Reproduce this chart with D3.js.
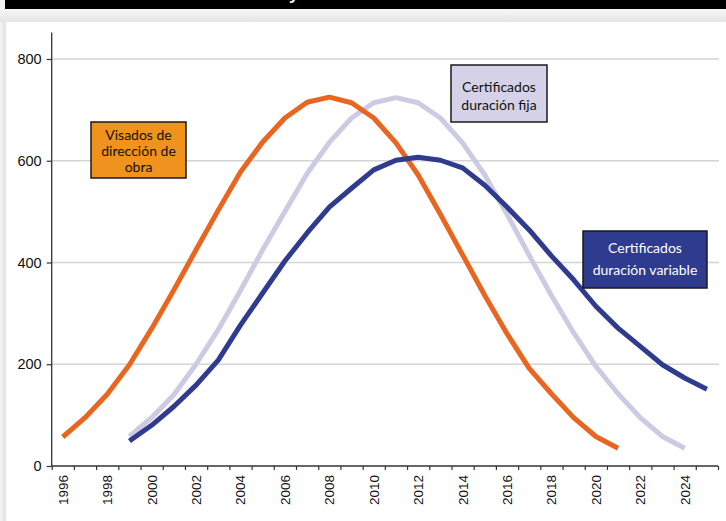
<!DOCTYPE html>
<html>
<head>
<meta charset="utf-8">
<script src="https://cdn.jsdelivr.net/npm/d3@7"></script>
<style>
  html, body { margin: 0; padding: 0; background: #fff; }
  svg { display: block; }
</style>
</head>
<body>
<svg id="chart" width="726" height="521"></svg>
<script>
// Years on the horizontal axis
const years = d3.range(1996, 2026);
const yTicks = [0, 200, 400, 600, 800];

// Visados de dirección de obra, 1996–2021
const visadosYears = d3.range(1996, 2022);
const visados = [57, 95, 141, 199, 270, 346, 425, 503, 578, 637, 684, 715, 725,
                 714, 684, 635, 572, 495, 415, 335, 260, 192, 142, 95, 58, 35];

// Certificados duración fija, 1999–2024
const fijaYears = d3.range(1999, 2025);
const fija = [58, 95, 140, 200, 268, 345, 425, 500, 575, 636, 684, 714, 724,
              714, 684, 635, 572, 495, 414, 335, 262, 196, 142, 95, 58, 35];

// Certificados duración variable, 1999–2025
const variableYears = d3.range(1999, 2026);
const variable = [49, 80, 117, 159, 208, 277, 340, 403, 458, 509, 546, 582, 601,
                  607, 601, 586, 552, 509, 464, 413, 366, 314, 271, 235, 199, 173, 151];

const series = [
  { name: "Visados de dirección de obra", years: visadosYears, values: visados, color: "#e8661f" },
  { name: "Certificados duración fija", years: fijaYears, values: fija, color: "#cdcbe3" },
  { name: "Certificados duración variable", years: variableYears, values: variable, color: "#2f3b8f" }
];

const svg = d3.select("#chart");
const W = 726, H = 521;

// Page frame: grey surround, shaded strip and white panel
const defs = svg.append("defs");
const g1 = defs.append("linearGradient").attr("id", "topShade").attr("x1", 0).attr("y1", 0).attr("x2", 0).attr("y2", 1);
g1.append("stop").attr("offset", "0%").attr("stop-color", "#f7f7f7");
g1.append("stop").attr("offset", "100%").attr("stop-color", "#e4e4e4");
const g2 = defs.append("linearGradient").attr("id", "leftShade").attr("x1", 0).attr("y1", 0).attr("x2", 1).attr("y2", 0);
g2.append("stop").attr("offset", "0%").attr("stop-color", "#f4f4f4");
g2.append("stop").attr("offset", "100%").attr("stop-color", "#e2e2e2");

svg.append("rect").attr("x", 0).attr("y", 0).attr("width", W).attr("height", H).attr("fill", "#f2f2f2");
svg.append("rect").attr("x", 0).attr("y", 9).attr("width", W).attr("height", 13).attr("fill", "url(#topShade)");
svg.append("rect").attr("x", 0).attr("y", 22).attr("width", 6).attr("height", H - 22).attr("fill", "url(#leftShade)");
svg.append("rect").attr("x", 6).attr("y", 22).attr("width", W - 6).attr("height", H - 22).attr("fill", "#ffffff");

// Black title bar (title sits mostly above the visible area)
svg.append("rect").attr("x", 5).attr("y", 0).attr("width", W - 5).attr("height", 9).attr("fill", "#000");
const title = svg.append("g")
  .attr("font-family", "Liberation Sans, Arial, sans-serif")
  .attr("font-weight", "bold").attr("font-size", 17).attr("fill", "#fff");
title.append("text").attr("x", 290).attr("y", 0).attr("text-anchor", "end").text("Visados");
title.append("text").attr("x", 289).attr("y", 0).attr("text-anchor", "start").text("y certificados");

// Scales
const x = d3.scaleLinear().domain([1996, 2025]).range([62.8, 706.9]);
const y = d3.scaleLinear().domain([0, 800]).range([466, 59]);
const x0 = x(1995.5), x1 = x(2025.5);

// Horizontal gridlines
svg.append("g").selectAll("line").data(yTicks.filter(d => d > 0)).join("line")
  .attr("x1", x0).attr("x2", 719)
  .attr("y1", d => y(d)).attr("y2", d => y(d))
  .attr("stroke", "#d4d4d4").attr("stroke-width", 1.4);

// Y axis
const yAxis = svg.append("g").attr("transform", `translate(${x0},0)`)
  .call(d3.axisLeft(y).tickValues(yTicks).tickSize(5).tickSizeOuter(0).tickPadding(5));
yAxis.select(".domain").remove();
yAxis.selectAll(".tick line").attr("stroke", "#333").attr("stroke-width", 1.2);
yAxis.selectAll(".tick text")
  .attr("font-family", "Liberation Sans, Arial, sans-serif")
  .attr("font-size", 14.5).attr("fill", "#111");
svg.append("line").attr("x1", x0).attr("x2", x0).attr("y1", y(852)).attr("y2", y(0))
  .attr("stroke", "#333").attr("stroke-width", 1.3);

// X axis: ticks on year boundaries, labels on every other year
const bounds = d3.range(1995.5, 2026, 1);
const xAxis = svg.append("g").attr("transform", `translate(0,${y(0)})`)
  .call(d3.axisBottom(x).tickValues(bounds).tickFormat("").tickSize(4).tickSizeOuter(0));
xAxis.select(".domain").attr("stroke", "#333").attr("stroke-width", 1.3)
  .attr("d", `M${x0},0H${x1}`);
xAxis.selectAll(".tick line").attr("stroke", "#333").attr("stroke-width", 1.2);

svg.append("g").selectAll("text").data(years.filter(d => d % 2 === 0)).join("text")
  .attr("transform", d => `translate(${x(d) + 5},${y(0) + 9}) rotate(-90)`)
  .attr("text-anchor", "end")
  .attr("font-family", "Liberation Sans, Arial, sans-serif")
  .attr("font-size", 13.5).attr("fill", "#111")
  .text(d => d);

// Lines
const line = d3.line().x(d => x(d[0])).y(d => y(d[1]));
const order = [1, 0, 2];
svg.append("g").selectAll("path").data(order.map(i => series[i])).join("path")
  .attr("d", s => line(s.years.map((yr, i) => [yr, s.values[i]])))
  .attr("fill", "none")
  .attr("stroke", s => s.color)
  .attr("stroke-width", 5)
  .attr("stroke-linejoin", "round");

// Label boxes
const boxes = [
  { lines: ["Visados de", "dirección de", "obra"], x: 91, y: 122, w: 95, h: 56, fill: "#f0921e", text: "#111", cx: 138.5, base: 140, lh: 16.2 },
  { lines: ["Certificados", "duración fija"], x: 451, y: 65, w: 96, h: 57, fill: "#d4d1e8", text: "#111", cx: 499, base: 92, lh: 18 },
  { lines: ["Certificados", "duración variable"], x: 583, y: 231, w: 124, h: 57, fill: "#2f3b8f", text: "#fff", cx: 645, base: 253, lh: 21.5 }
];
const bg = svg.append("g");
boxes.forEach(b => {
  bg.append("rect").attr("x", b.x).attr("y", b.y).attr("width", b.w).attr("height", b.h)
    .attr("fill", b.fill).attr("stroke", "#1a1a1a").attr("stroke-width", 1.5);
  bg.append("g").selectAll("text").data(b.lines).join("text")
    .attr("x", b.cx).attr("y", (d, i) => b.base + i * b.lh)
    .attr("text-anchor", "middle")
    .attr("font-family", "Lato, 'Open Sans', sans-serif")
    .attr("font-size", 14).attr("fill", b.text)
    .text(d => d);
});
</script>
</body>
</html>
